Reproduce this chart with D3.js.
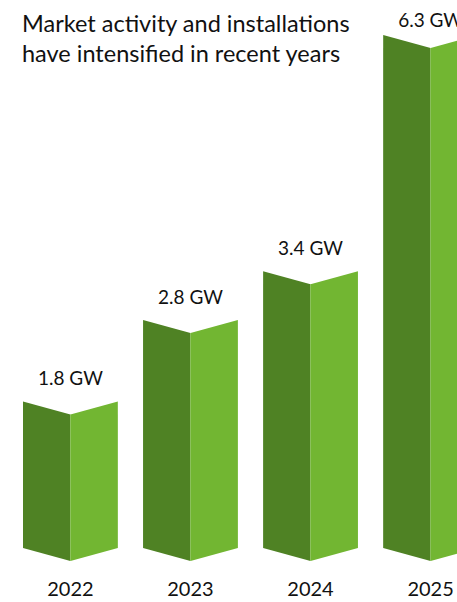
<!DOCTYPE html>
<html>
<head>
<meta charset="utf-8">
<script src="https://cdn.jsdelivr.net/npm/d3@7"></script>
<style>
  body { margin: 0; background: #fff; }
  text { font-family: Lato, "Open Sans", sans-serif; fill: #111; }
</style>
</head>
<body>
<div id="chart"></div>
<script>
"use strict"

// chart data
const years = ["2022", "2023", "2024", "2025"];
const capacity = [1.8, 2.8, 3.4, 6.3];
const valueLabels = ["1.8 GW", "2.8 GW", "3.4 GW", "6.3 GW"];
const titleLines = ["Market activity and installations", "have intensified in recent years"];

const figWidth = 457;
const figHeight = 602;
const baseY = 548;     // where the bars stand
const notch = 13;      // depth of the folded V at top and bottom

let svg = d3.select("#chart").append("svg")
    .attr("width", figWidth)
    .attr("height", figHeight);

let xScale = d3.scaleBand()
    .domain(years)
    .range([23, 478])
    .paddingInner(0.21)
    .paddingOuter(0);

let yScale = d3.scaleLinear()
    .domain([0, 6.3])
    .range([baseY, 35]);

const rows = years.map((y, i) => ({year: y, value: capacity[i], label: valueLabels[i]}));

let bars = svg.append("g").selectAll("g.bar")
    .data(rows)
    .enter().append("g")
        .attr("class", "bar");

// left (shaded) face
bars.append("path")
    .attr("d", d => {
        const x0 = xScale(d.year), xm = x0 + xScale.bandwidth() / 2;
        const top = yScale(d.value);
        return `M${x0},${top} L${xm},${top + notch} L${xm},${baseY + notch} L${x0},${baseY} Z`;
    })
    .style("fill", "#4f8224");

// right (lit) face
bars.append("path")
    .attr("d", d => {
        const x0 = xScale(d.year), w = xScale.bandwidth(), xm = x0 + w / 2, x1 = x0 + w;
        const top = yScale(d.value);
        return `M${xm},${top + notch} L${x1},${top} L${x1},${baseY} L${xm},${baseY + notch} Z`;
    })
    .style("fill", "#72b632");

// thin highlight on the fold
bars.append("line")
    .attr("x1", d => xScale(d.year) + xScale.bandwidth() / 2)
    .attr("x2", d => xScale(d.year) + xScale.bandwidth() / 2)
    .attr("y1", d => yScale(d.value) + notch)
    .attr("y2", baseY + notch)
    .style("stroke", "#8cc65a")
    .style("stroke-width", 0.8)
    .style("opacity", 0.6);

// value labels above the bars (the tallest one is squeezed under the top edge)
bars.append("text")
    .attr("x", d => xScale(d.year) + xScale.bandwidth() / 2)
    .attr("y", d => Math.max(yScale(d.value) - 16, 27))
    .attr("text-anchor", "middle")
    .style("font-size", "19px")
    .text(d => d.label);

// year labels under the bars
bars.append("text")
    .attr("x", d => xScale(d.year) + xScale.bandwidth() / 2)
    .attr("y", 596)
    .attr("text-anchor", "middle")
    .style("font-size", "20px")
    .text(d => d.year);

// title
svg.append("text")
    .attr("x", 22)
    .attr("y", 32)
    .style("font-size", "23.5px")
    .selectAll("tspan")
    .data(titleLines)
    .enter().append("tspan")
        .attr("x", 22)
        .attr("dy", (d, i) => i === 0 ? 0 : 30)
        .text(d => d);
</script>
</body>
</html>
